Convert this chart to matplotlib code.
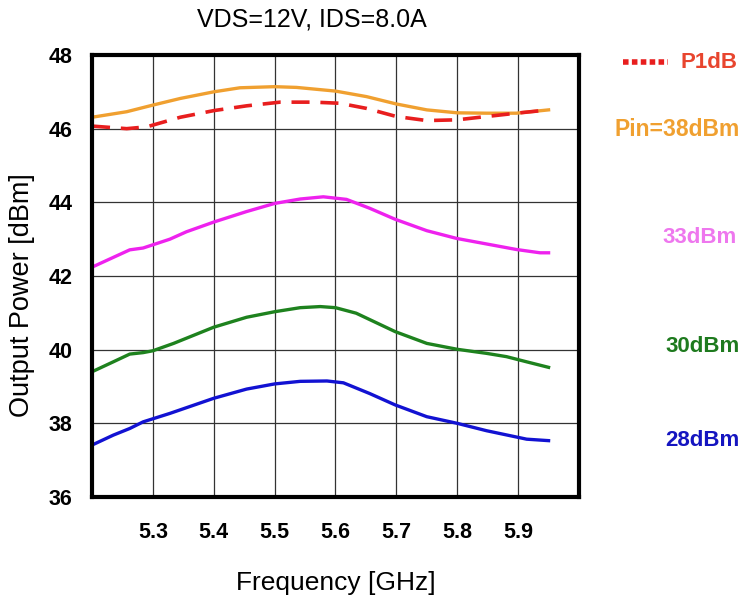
import matplotlib
matplotlib.use("Agg")
import matplotlib.pyplot as plt
from matplotlib.lines import Line2D

plt.rcParams['font.family'] = ['Liberation Sans', 'DejaVu Sans']

# Frequency [GHz] samples
freq_orange = [5.20, 5.257, 5.30, 5.345, 5.40, 5.443, 5.50, 5.536, 5.60, 5.651, 5.70, 5.75, 5.80, 5.848, 5.897, 5.95]
pin38 = [46.31, 46.46, 46.64, 46.82, 47.00, 47.11, 47.14, 47.12, 47.02, 46.87, 46.67, 46.51, 46.43, 46.42, 46.42, 46.51]

freq_red = [5.20, 5.257, 5.29, 5.345, 5.40, 5.454, 5.509, 5.564, 5.607, 5.651, 5.70, 5.75, 5.80, 5.848, 5.897, 5.95]
p1db = [46.07, 46.00, 46.05, 46.31, 46.49, 46.62, 46.72, 46.72, 46.69, 46.55, 46.33, 46.22, 46.24, 46.33, 46.42, 46.51]

freq_mag = [5.20, 5.262, 5.284, 5.328, 5.355, 5.401, 5.454, 5.50, 5.542, 5.58, 5.618, 5.656, 5.698, 5.75, 5.799, 5.848, 5.897, 5.936, 5.95]
pin33 = [42.24, 42.71, 42.76, 43.00, 43.20, 43.47, 43.75, 43.97, 44.09, 44.15, 44.08, 43.84, 43.54, 43.23, 43.02, 42.87, 42.72, 42.63, 42.63]

freq_green = [5.20, 5.235, 5.262, 5.284, 5.30, 5.334, 5.40, 5.454, 5.50, 5.542, 5.575, 5.60, 5.634, 5.698, 5.75, 5.80, 5.848, 5.881, 5.914, 5.95]
pin30 = [39.40, 39.67, 39.88, 39.92, 39.97, 40.17, 40.61, 40.88, 41.03, 41.14, 41.17, 41.14, 40.99, 40.49, 40.17, 40.01, 39.90, 39.81, 39.67, 39.52]

freq_blue = [5.20, 5.235, 5.262, 5.284, 5.328, 5.40, 5.454, 5.50, 5.542, 5.586, 5.613, 5.656, 5.698, 5.75, 5.80, 5.848, 5.914, 5.95]
pin28 = [37.41, 37.68, 37.86, 38.04, 38.27, 38.68, 38.93, 39.07, 39.14, 39.15, 39.10, 38.81, 38.50, 38.18, 38.00, 37.80, 37.57, 37.53]

x_ticks = [5.3, 5.4, 5.5, 5.6, 5.7, 5.8, 5.9]
y_ticks = [36, 38, 40, 42, 44, 46, 48]

fig = plt.figure(figsize=(7.44, 5.98), dpi=100)
ax = fig.add_axes([92/744, 1 - 497/598, 487/744, 442/598])

ax.plot(freq_orange, pin38, color='#F0A030', lw=2.4)
ax.plot(freq_red, p1db, color='#E81E1E', lw=2.6, linestyle=(0, (5, 3)))
ax.plot(freq_mag, pin33, color='#EE22EE', lw=2.4)
ax.plot(freq_green, pin30, color='#1E821E', lw=2.4)
ax.plot(freq_blue, pin28, color='#1212D2', lw=2.4)

ax.set_xlim(5.2, 6.0)
ax.set_ylim(36, 48)
ax.set_xticks([5.2] + x_ticks + [6.0])
ax.set_xticklabels([''] + [f"{t:.1f}" for t in x_ticks] + [''])
ax.set_yticks(y_ticks)
ax.tick_params(length=0, labelsize=15.5)
ax.tick_params(axis='y', pad=14)
ax.tick_params(axis='x', pad=18)
for lab in ax.get_xticklabels() + ax.get_yticklabels():
    lab.set_fontweight('bold')
ax.grid(True, color='#333333', lw=0.9)
for s in ax.spines.values():
    s.set_linewidth(3)

ax.set_xlabel("Frequency [GHz]", fontsize=19, va='center')
ax.xaxis.set_label_coords(0.5, (497 - 583) / 442)
ax.set_ylabel("Output Power [dBm]", fontsize=19.5, va='center')
ax.yaxis.set_label_coords((22 - 92) / 487, (497 - 295) / 442)
fig.text(312/744, 1 - 20/598, "VDS=12V, IDS=8.0A", fontsize=18, ha='center', va='center')

# right-hand labels
fig.add_artist(Line2D([623/744, 668/744], [1 - 62/598, 1 - 62/598], color='#E81E1E', lw=4,
                      linestyle=(0, (1, 0.6))))
fig.text(738/744, 1 - 63/598, "P1dB", color='#E8452E', fontsize=16, fontweight='bold', ha='right', va='center')
fig.text(740/744, 1 - 129/598, "Pin=38dBm", color='#F0A030', fontsize=16.5, fontweight='bold', ha='right', va='center')
fig.text(737/744, 1 - 237/598, "33dBm", color='#EE77EE', fontsize=16, fontweight='bold', ha='right', va='center')
fig.text(740/744, 1 - 346/598, "30dBm", color='#1E7A1E', fontsize=16, fontweight='bold', ha='right', va='center')
fig.text(740/744, 1 - 440/598, "28dBm", color='#1515C0', fontsize=16, fontweight='bold', ha='right', va='center')

plt.savefig("out.png", dpi=100)
